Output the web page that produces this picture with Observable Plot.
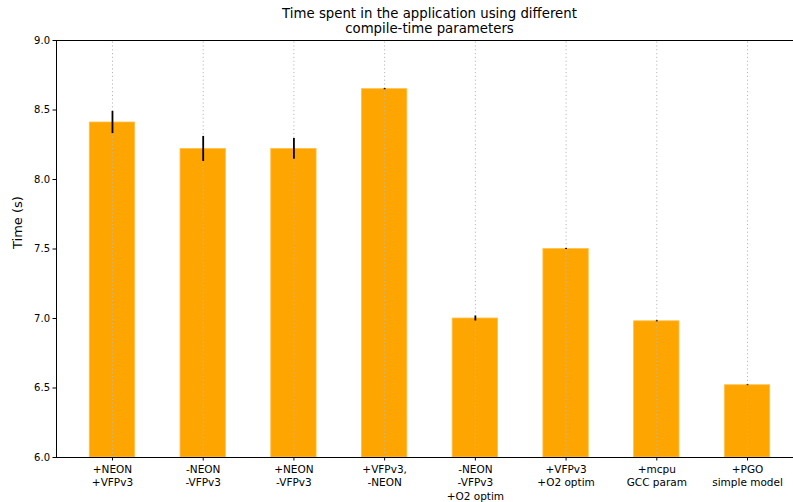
<!DOCTYPE html>
<html>
<head>
<meta charset="utf-8">
<script src="https://cdn.jsdelivr.net/npm/d3@7"></script>
<script src="https://cdn.jsdelivr.net/npm/@observablehq/plot@0.6"></script>
<style>
  html, body { margin: 0; padding: 0; background: white; overflow: hidden; }
  #wrap { position: relative; width: 793px; height: 502px; font-family: "DejaVu Sans", sans-serif; }
  #title { position: absolute; left: 56px; width: 747px; top: 6px; text-align: center; font-size: 13.3px; line-height: 15px; color: #000; }
  #chart { position: absolute; left: 0; top: 0; }
  #chart svg { overflow: hidden; }
</style>
</head>
<body>
<div id="wrap">
  <div id="chart"></div>
  <div id="title">Time spent in the application using different<br>compile-time parameters</div>
</div>
<script>
// Build configurations, mean run time and its spread
const configs = [
  "+NEON\n+VFPv3",
  "-NEON\n-VFPv3",
  "+NEON\n-VFPv3",
  "+VFPv3,\n-NEON",
  "-NEON\n-VFPv3\n+O2 optim",
  "+VFPv3\n+O2 optim",
  "+mcpu\nGCC param",
  "+PGO\nsimple model"
];
const times = [8.41, 8.22, 8.22, 8.65, 7.00, 7.50, 6.98, 6.52];
const errors = [0.08, 0.09, 0.075, 0.004, 0.018, 0.003, 0.004, 0.003];
const yTicks = [6.0, 6.5, 7.0, 7.5, 8.0, 8.5, 9.0];
const yMin = 6.0, yMax = 9.0;

const data = configs.map((name, i) => ({name, time: times[i], err: errors[i]}));

const chart = Plot.plot({
  width: 793,
  height: 502,
  marginTop: 40,
  marginBottom: 45,
  marginLeft: 56,
  marginRight: 0,
  style: {fontFamily: "DejaVu Sans, sans-serif", fontSize: "10px", color: "#000", background: "white"},
  x: {
    type: "band",
    domain: configs,
    range: [56, 803],
    round: false,
    paddingInner: 0.5,
    paddingOuter: 0.367
  },
  y: {domain: [yMin, yMax]},
  marks: [
    Plot.barY(data, {x: "name", y1: () => yMin, y2: "time", fill: "#FFA500", stroke: "#FFC04D", strokeWidth: 0.8}),
    Plot.ruleX(configs, {x: d => d, y1: yMin, y2: yMax, stroke: "#b8b8b8", strokeWidth: 1, strokeDasharray: "1.2,2.6"}),
    Plot.ruleX(data, {x: "name", y1: d => d.time - d.err, y2: d => d.time + d.err, stroke: "#000", strokeWidth: 1.8}),
    Plot.frame({stroke: "#000", strokeWidth: 1}),
    Plot.axisY({ticks: yTicks, tickFormat: d3.format(".1f"), tickSize: 3.5, tickPadding: 3, fontSize: 10, label: null}),
    Plot.axisX({tickSize: 3.5, tickPadding: 2.5, fontSize: 10.5, lineHeight: 1.27, label: null}),
    Plot.text(["Time (s)"], {frameAnchor: "left", dx: -39, rotate: -90, fontSize: 13, text: d => d})
  ]
});
document.getElementById("chart").appendChild(chart);
</script>
</body>
</html>
